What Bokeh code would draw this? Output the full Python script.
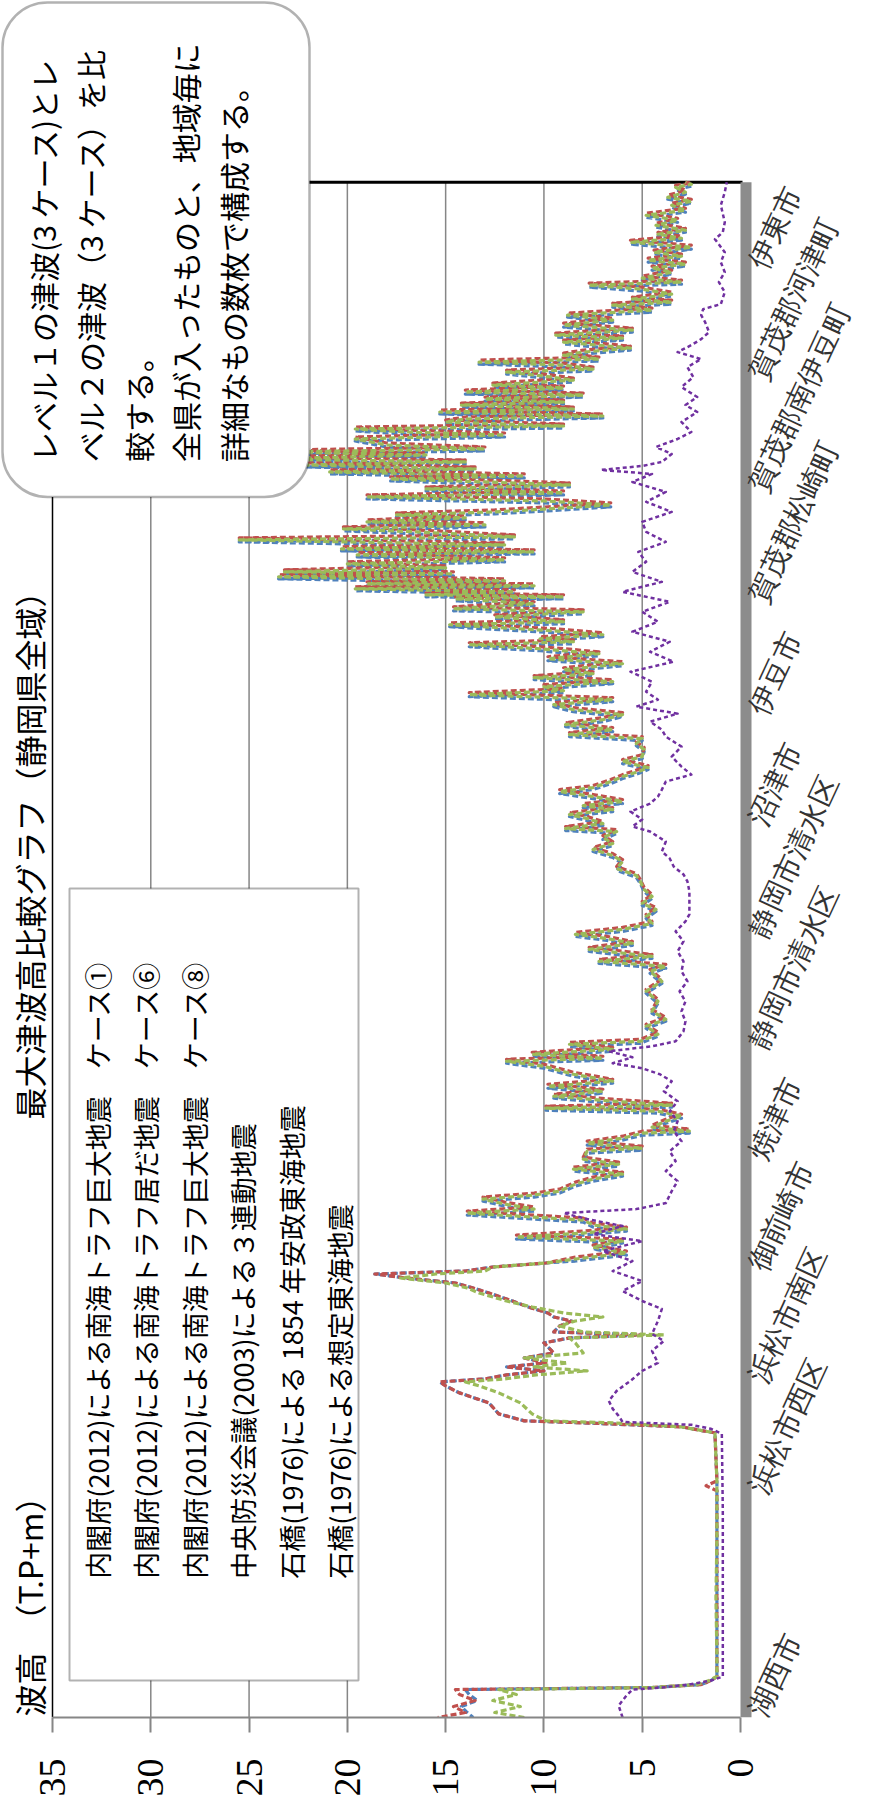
import math
from bokeh.plotting import figure
from bokeh.models import Range1d, FixedTicker, BoxAnnotation, Label, LabelSet, ColumnDataSource
from bokeh.embed import file_html
from bokeh.resources import INLINE

# ---------------- data (location index along the coast, tsunami height m) ----------------
height_ticks = [0, 5, 10, 15, 20, 25, 30, 35]
grid_heights = [5, 10, 15, 20, 25, 30]
plot_top = 1537          # last location index (伊東市 end)

loc_ticks = [3, 114, 226, 337, 449, 560, 672, 783, 895, 1006, 1118, 1229, 1341, 1452]
loc_labels = ["湖西市", "", "浜松市西区", "浜松市南区", "御前崎市", "焼津市", "静岡市清水区",
              "静岡市清水区", "沼津市", "伊豆市", "賀茂郡松崎町", "賀茂郡南伊豆町", "賀茂郡河津町", "伊東市"]

series_names = [
    "内閣府(2012)による南海トラフ巨大地震　ケース①",
    "内閣府(2012)による南海トラフ居だ地震　ケース⑥",
    "内閣府(2012)による南海トラフ巨大地震　ケース⑧",
    "中央防災会議(2003)による３連動地震",
    "石橋(1976)による 1854 年安政東海地震",
    "石橋(1976)による想定東海地震",
]

main_p = [
    0, 5, 11, 17, 23, 28, 30, 33, 37, 41,
    60, 120, 180, 227, 232, 237, 285, 287, 291, 295,
    297, 304, 315, 325, 332, 336, 339, 343, 347, 351,
    355, 360, 365, 375, 380, 383, 386, 392, 397, 401,
    405, 411, 417, 425, 430, 435, 440, 444, 447, 451,
    455, 459, 465, 471, 477, 481, 485, 489, 493, 498,
    505, 509, 514, 519, 523, 527, 534, 539, 544, 549,
    554, 559, 567, 570, 575, 580, 585, 587, 591, 597,
    602, 607, 610, 613, 617, 622, 627, 632, 637, 644,
    652, 657, 660, 664, 669, 674, 677, 684, 692, 699,
    707, 717, 727, 737, 747, 752, 757, 762, 769, 775,
    780, 784, 789, 795, 802, 809, 815, 822, 829, 837,
    843, 850, 857, 863, 869, 875, 881, 887, 890, 895,
    900, 904, 909, 913, 917, 922, 927, 931, 937, 942,
    947, 951, 957, 962, 969, 975, 980, 984, 989, 994,
    999, 1004, 1009, 1014, 1019, 1024, 1028, 1032, 1037, 1041,
    1045, 1049, 1055, 1060, 1065, 1070, 1074, 1077, 1080, 1084,
    1088, 1094, 1097, 1102, 1107, 1110, 1115, 1120, 1122, 1124,
    1127, 1130, 1133, 1135, 1138, 1142, 1145, 1147, 1151, 1155,
    1159, 1164, 1167, 1170, 1174, 1179, 1182, 1187, 1190, 1194,
    1197, 1201, 1204, 1207, 1211, 1214, 1218, 1222, 1226, 1230,
    1234, 1237, 1240, 1243, 1247, 1250, 1254, 1257, 1260, 1264,
    1267, 1270, 1274, 1280, 1284, 1287, 1290, 1293, 1297, 1300,
    1303, 1307, 1310, 1314, 1317, 1320, 1324, 1327, 1331, 1334,
    1339, 1343, 1347, 1350, 1354, 1357, 1360, 1364, 1367, 1371,
    1377, 1381, 1384, 1389, 1394, 1399, 1404, 1409, 1414, 1417,
    1420, 1425, 1430, 1434, 1437, 1441, 1447, 1451, 1455, 1459,
    1463, 1467, 1472, 1477, 1481, 1485, 1489, 1494, 1499, 1504,
    1509, 1514, 1518, 1522, 1527, 1532, 1535, 1537,
]

green_h = [
    11.0, 12.5, 11.2, 12.6, 11.4, 12.3, 4.5, 2.2, 1.6, 1.2,
    1.2, 1.25, 1.2, 1.2, 1.2, 1.2, 1.3, 1.9, 3.0, 6.5,
    9.9, 10.6, 11.2, 12.3, 13.3, 14.0, 12.0, 10.4, 7.8, 10.5,
    8.8, 11.0, 8.0, 8.4, 8.7, 3.9, 8.0, 9.2, 8.4, 7.0,
    9.0, 10.6, 11.9, 13.3, 13.9, 15.0, 17.3, 15.5, 13.0, 12.6,
    9.9, 8.4, 5.8, 7.5, 6.0, 11.4, 8.0, 5.8, 7.5, 8.0,
    13.9, 10.5, 12.0, 13.1, 10.5, 9.2, 8.4, 7.5, 6.0, 8.5,
    6.2, 8.0, 7.8, 5.0, 7.8, 6.0, 5.0, 2.6, 4.5, 3.8,
    3.0, 4.2, 9.9, 3.5, 6.5, 9.5, 7.0, 9.8, 6.5, 8.5,
    10.0, 11.9, 7.0, 10.6, 6.5, 8.7, 5.1, 4.2, 4.8, 3.8,
    4.5, 4.2, 4.8, 4.0, 4.6, 3.8, 7.2, 4.5, 7.7, 5.5,
    6.8, 8.4, 6.0, 4.5, 4.8, 4.3, 5.0, 4.5, 4.9, 5.1,
    5.3, 6.3, 6.0, 6.5, 7.5, 6.5, 7.0, 6.3, 8.9, 7.0,
    7.8, 8.7, 6.5, 8.0, 6.0, 7.5, 9.2, 7.5, 6.6, 6.0,
    5.2, 4.7, 6.0, 5.0, 4.9, 5.3, 5.0, 8.7, 6.5, 8.9,
    7.0, 6.0, 8.5, 9.5, 6.5, 13.8, 9.0, 10.0, 6.5, 10.5,
    7.5, 9.0, 6.0, 9.8, 7.2, 10.2, 13.8, 8.5, 10.2, 7.0,
    9.5, 14.8, 9.0, 12.5, 8.0, 14.6, 10.5, 14.5, 9.0, 16.0,
    11.5, 19.6, 10.5, 19.0, 12.0, 23.5, 14.6, 23.2, 15.0, 20.0,
    12.0, 19.5, 10.5, 20.3, 12.0, 25.5, 11.5, 16.5, 20.2, 13.0,
    19.0, 14.0, 17.5, 12.5, 9.0, 6.6, 10.0, 19.0, 9.0, 16.0,
    8.7, 13.0, 17.8, 11.0, 20.9, 13.5, 22.1, 14.0, 24.0, 16.0,
    23.5, 13.0, 18.0, 19.6, 12.0, 17.0, 19.6, 9.0, 15.0, 14.0,
    7.0, 15.3, 8.5, 14.2, 9.0, 13.0, 8.0, 14.0, 9.0, 12.6,
    8.5, 10.0, 11.9, 7.5, 9.0, 13.3, 7.2, 9.0, 8.0, 5.6,
    9.0, 6.0, 9.4, 5.5, 9.0, 6.5, 8.8, 4.5, 6.5, 3.5,
    5.5, 3.5, 5.0, 7.7, 3.0, 5.0, 3.5, 4.5, 2.8, 4.7,
    3.0, 4.4, 2.5, 5.6, 3.0, 4.2, 2.8, 4.3, 3.2, 4.8,
    2.8, 3.5, 2.5, 3.7, 2.8, 3.3, 2.5, 2.8,
]

red_p = [
    0, 5, 11, 17, 23, 28, 30, 33, 37, 41,
    60, 120, 180, 227, 232, 237, 285, 287, 291, 295,
    297, 304, 315, 325, 332, 336, 339, 343, 347, 351,
    355, 360, 365, 375, 380, 383, 386, 392, 397, 401,
    405, 411, 417, 425, 430, 435, 440, 444, 447, 451,
    455, 461, 467, 473, 479, 483, 487, 491, 495, 500,
    507, 511, 516, 521, 525, 529, 536, 541, 546, 551,
    556, 561, 569, 572, 577, 582, 587, 589, 593, 599,
    604, 609, 612, 615, 619, 624, 629, 634, 639, 646,
    654, 659, 662, 666, 671, 676, 679, 686, 694, 701,
    709, 719, 729, 739, 749, 754, 759, 764, 771, 777,
    782, 786, 791, 797, 804, 811, 817, 824, 831, 839,
    845, 852, 859, 865, 871, 877, 883, 889, 892, 897,
    902, 906, 911, 915, 919, 924, 929, 933, 939, 944,
    949, 953, 959, 964, 971, 977, 982, 986, 991, 996,
    1001, 1006, 1011, 1016, 1021, 1026, 1030, 1034, 1039, 1043,
    1047, 1051, 1057, 1062, 1067, 1072, 1076, 1079, 1082, 1086,
    1090, 1096, 1099, 1104, 1109, 1112, 1117, 1122, 1124, 1126,
    1129, 1132, 1135, 1137, 1140, 1144, 1147, 1149, 1153, 1157,
    1161, 1166, 1169, 1172, 1176, 1181, 1184, 1189, 1192, 1196,
    1199, 1203, 1206, 1209, 1213, 1216, 1220, 1224, 1228, 1232,
    1236, 1239, 1242, 1245, 1249, 1252, 1256, 1259, 1262, 1266,
    1269, 1272, 1276, 1282, 1286, 1289, 1292, 1295, 1299, 1302,
    1305, 1309, 1312, 1316, 1319, 1322, 1326, 1329, 1333, 1336,
    1341, 1345, 1349, 1352, 1356, 1359, 1362, 1366, 1369, 1373,
    1379, 1383, 1386, 1391, 1396, 1401, 1406, 1411, 1416, 1419,
    1422, 1427, 1432, 1436, 1439, 1443, 1449, 1453, 1457, 1461,
    1465, 1469, 1474, 1479, 1483, 1487, 1491, 1496, 1501, 1506,
    1511, 1516, 1520, 1524, 1529, 1534, 1536, 1537,
]

red_h = [
    15.4, 14.0, 14.6, 13.5, 14.3, 14.5, 4.5, 2.0, 1.5, 1.2,
    1.2, 1.2, 1.2, 1.2, 1.75, 1.2, 1.3, 1.9, 3.0, 8.0,
    11.0, 12.3, 12.8, 14.3, 15.0, 15.3, 13.0, 11.9, 10.0, 11.9,
    9.9, 11.0, 9.5, 10.0, 8.7, 5.0, 9.5, 9.2, 8.6, 9.5,
    9.8, 10.8, 11.6, 12.8, 13.6, 14.5, 17.0, 18.6, 14.0, 12.6,
    9.9, 8.4, 5.8, 7.5, 6.0, 11.4, 8.0, 5.8, 7.5, 8.0,
    13.9, 10.5, 12.0, 13.1, 10.5, 9.2, 8.4, 7.5, 6.0, 8.5,
    6.2, 8.0, 7.8, 5.0, 7.8, 6.0, 5.0, 2.6, 4.5, 3.8,
    3.0, 4.2, 9.9, 3.5, 6.5, 9.5, 7.0, 9.8, 6.5, 8.5,
    10.0, 11.9, 7.0, 10.6, 6.5, 8.7, 5.1, 4.2, 4.8, 3.8,
    4.5, 4.2, 4.8, 4.0, 4.6, 3.8, 7.2, 4.5, 7.7, 5.5,
    6.8, 8.4, 6.0, 4.5, 4.8, 4.3, 5.0, 4.5, 4.9, 5.1,
    5.3, 6.3, 6.0, 6.5, 7.5, 6.5, 7.0, 6.3, 8.9, 7.0,
    7.8, 8.7, 6.5, 8.0, 6.0, 7.5, 9.2, 7.5, 6.6, 6.0,
    5.2, 4.7, 6.0, 5.0, 4.9, 5.3, 5.0, 8.7, 6.5, 8.9,
    7.0, 6.0, 8.5, 9.5, 6.5, 13.8, 9.0, 10.0, 6.5, 10.5,
    7.5, 9.0, 6.0, 9.8, 7.2, 10.2, 13.8, 8.5, 10.2, 7.0,
    9.5, 14.8, 9.0, 12.5, 8.0, 14.6, 10.5, 14.5, 9.0, 16.0,
    11.5, 19.6, 10.5, 19.0, 12.0, 23.5, 14.6, 23.2, 15.0, 20.0,
    12.0, 19.5, 10.5, 20.3, 12.0, 25.5, 11.5, 16.5, 20.2, 13.0,
    19.0, 14.0, 17.5, 12.5, 9.0, 6.6, 10.0, 19.0, 9.0, 16.0,
    8.7, 13.0, 17.8, 11.0, 20.9, 13.5, 22.1, 14.0, 24.0, 16.0,
    23.5, 13.0, 18.0, 19.6, 12.0, 17.0, 19.6, 9.0, 15.0, 14.0,
    7.0, 15.3, 8.5, 14.2, 9.0, 13.0, 8.0, 14.0, 9.0, 12.6,
    8.5, 10.0, 11.9, 7.5, 9.0, 13.3, 7.2, 9.0, 8.0, 5.6,
    9.0, 6.0, 9.4, 5.5, 9.0, 6.5, 8.8, 4.5, 6.5, 3.5,
    5.5, 3.5, 5.0, 7.7, 3.0, 5.0, 3.5, 4.5, 2.8, 4.7,
    3.0, 4.4, 2.5, 5.6, 3.0, 4.2, 2.8, 4.3, 3.2, 4.8,
    2.8, 3.5, 2.5, 3.7, 2.8, 3.3, 2.5, 2.8,
]

blue_p = [
    0, 5, 11, 17, 23, 28, 30, 33, 37, 41,
    60, 120, 180, 227, 232, 237, 285, 287, 291, 295,
    297, 304, 315, 325, 332, 336, 339, 343, 347, 351,
    355, 360, 365, 375, 380, 383, 386, 392, 397, 401,
    405, 411, 417, 425, 430, 435, 440, 444, 447, 451,
    455, 457, 463, 469, 475, 479, 483, 487, 491, 496,
    503, 507, 512, 517, 521, 525, 532, 537, 542, 547,
    552, 557, 565, 568, 573, 578, 583, 585, 589, 595,
    600, 605, 608, 611, 615, 620, 625, 630, 635, 642,
    650, 655, 658, 662, 667, 672, 675, 682, 690, 697,
    705, 715, 725, 735, 745, 750, 755, 760, 767, 773,
    778, 782, 787, 793, 800, 807, 813, 820, 827, 835,
    841, 848, 855, 861, 867, 873, 879, 885, 888, 893,
    898, 902, 907, 911, 915, 920, 925, 929, 935, 940,
    945, 949, 955, 960, 967, 973, 978, 982, 987, 992,
    997, 1002, 1007, 1012, 1017, 1022, 1026, 1030, 1035, 1039,
    1043, 1047, 1053, 1058, 1063, 1068, 1072, 1075, 1078, 1082,
    1086, 1092, 1095, 1100, 1105, 1108, 1113, 1118, 1120, 1122,
    1125, 1128, 1131, 1133, 1136, 1140, 1143, 1145, 1149, 1153,
    1157, 1162, 1165, 1168, 1172, 1177, 1180, 1185, 1188, 1192,
    1195, 1199, 1202, 1205, 1209, 1212, 1216, 1220, 1224, 1228,
    1232, 1235, 1238, 1241, 1245, 1248, 1252, 1255, 1258, 1262,
    1265, 1268, 1272, 1278, 1282, 1285, 1288, 1291, 1295, 1298,
    1301, 1305, 1308, 1312, 1315, 1318, 1322, 1325, 1329, 1332,
    1337, 1341, 1345, 1348, 1352, 1355, 1358, 1362, 1365, 1369,
    1375, 1379, 1382, 1387, 1392, 1397, 1402, 1407, 1412, 1415,
    1418, 1423, 1428, 1432, 1435, 1439, 1445, 1449, 1453, 1457,
    1461, 1465, 1470, 1475, 1479, 1483, 1487, 1492, 1497, 1502,
    1507, 1512, 1516, 1520, 1525, 1530, 1533, 1537,
]

blue_h = [
    13.6, 13.9, 14.2, 13.4, 13.8, 14.0, 4.5, 2.0, 1.5, 1.2,
    1.2, 1.2, 1.2, 1.2, 1.2, 1.2, 1.3, 1.9, 3.0, 8.0,
    11.0, 12.3, 12.8, 14.3, 15.0, 15.3, 13.0, 11.9, 10.0, 11.9,
    9.9, 11.0, 9.5, 10.0, 8.7, 5.0, 9.5, 9.2, 8.6, 9.5,
    9.8, 10.8, 11.6, 12.8, 13.6, 14.5, 17.0, 18.6, 14.0, 12.6,
    9.9, 8.4, 5.8, 7.5, 6.0, 11.4, 8.0, 5.8, 7.5, 8.0,
    13.9, 10.5, 12.0, 13.1, 10.5, 9.2, 8.4, 7.5, 6.0, 8.5,
    6.2, 8.0, 7.8, 5.0, 7.8, 6.0, 5.0, 2.6, 4.5, 3.8,
    3.0, 4.2, 9.9, 3.5, 6.5, 9.5, 7.0, 9.8, 6.5, 8.5,
    10.0, 11.9, 7.0, 10.6, 6.5, 8.7, 5.1, 4.2, 4.8, 3.8,
    4.5, 4.2, 4.8, 4.0, 4.6, 3.8, 7.2, 4.5, 7.7, 5.5,
    6.8, 8.4, 6.0, 4.5, 4.8, 4.3, 5.0, 4.5, 4.9, 5.1,
    5.3, 6.3, 6.0, 6.5, 7.5, 6.5, 7.0, 6.3, 8.9, 7.0,
    7.8, 8.7, 6.5, 8.0, 6.0, 7.5, 9.2, 7.5, 6.6, 6.0,
    5.2, 4.7, 6.0, 5.0, 4.9, 5.3, 5.0, 8.7, 6.5, 8.9,
    7.0, 6.0, 8.5, 9.5, 6.5, 13.8, 9.0, 10.0, 6.5, 10.5,
    7.5, 9.0, 6.0, 9.8, 7.2, 10.2, 13.8, 8.5, 10.2, 7.0,
    9.5, 14.8, 9.0, 12.5, 8.0, 14.6, 10.5, 14.5, 9.0, 16.0,
    11.5, 19.6, 10.5, 19.0, 12.0, 23.5, 14.6, 23.2, 15.0, 20.0,
    12.0, 19.5, 10.5, 20.3, 12.0, 25.5, 11.5, 16.5, 20.2, 13.0,
    19.0, 14.0, 17.5, 12.5, 9.0, 6.6, 10.0, 19.0, 9.0, 16.0,
    8.7, 13.0, 17.8, 11.0, 20.9, 13.5, 22.1, 14.0, 24.0, 16.0,
    23.5, 13.0, 18.0, 19.6, 12.0, 17.0, 19.6, 9.0, 15.0, 14.0,
    7.0, 15.3, 8.5, 14.2, 9.0, 13.0, 8.0, 14.0, 9.0, 12.6,
    8.5, 10.0, 11.9, 7.5, 9.0, 13.3, 7.2, 9.0, 8.0, 5.6,
    9.0, 6.0, 9.4, 5.5, 9.0, 6.5, 8.8, 4.5, 6.5, 3.5,
    5.5, 3.5, 5.0, 7.7, 3.0, 5.0, 3.5, 4.5, 2.8, 4.7,
    3.0, 4.4, 2.5, 5.6, 3.0, 4.2, 2.8, 4.3, 3.2, 4.8,
    2.8, 3.5, 2.5, 3.7, 2.8, 3.3, 2.5, 2.8,
]

purple_p = [
    0, 12, 22, 28, 30, 33, 37, 41, 127, 207,
    284, 289, 293, 296, 302, 309, 317, 327, 337, 347,
    355, 367, 377, 384, 397, 409, 417, 427, 437, 447,
    457, 467, 477, 484, 492, 499, 505, 509, 515, 527,
    537, 547, 557, 567, 577, 587, 597, 607, 617, 627,
    637, 644, 650, 655, 661, 667, 672, 677, 687, 697,
    707, 717, 727, 737, 747, 757, 767, 777, 787, 797,
    804, 817, 827, 837, 844, 852, 860, 867, 877, 887,
    892, 899, 907, 915, 922, 929, 937, 944, 952, 962,
    972, 982, 989, 997, 1005, 1012, 1019, 1027, 1037, 1047,
    1057, 1067, 1077, 1087, 1097, 1107, 1117, 1127, 1137, 1147,
    1157, 1167, 1177, 1187, 1197, 1207, 1217, 1227, 1237, 1245,
    1249, 1253, 1257, 1265, 1272, 1280, 1287, 1297, 1307, 1314,
    1322, 1332, 1342, 1352, 1360, 1367, 1374, 1380, 1387, 1397,
    1404, 1410, 1415, 1427, 1437, 1447, 1457, 1467, 1480, 1487,
    1497, 1514, 1527, 1537,
]

purple_h = [
    6.0, 6.2, 5.8, 5.5, 4.0, 2.6, 1.5, 0.9, 0.9, 0.9,
    0.95, 1.5, 2.5, 6.0, 6.2, 6.5, 6.7, 6.3, 5.6, 5.0,
    4.2, 4.5, 3.9, 4.5, 4.2, 4.0, 5.0, 6.0, 5.0, 6.5,
    5.5, 7.0, 5.0, 7.5, 6.0, 7.8, 9.0, 5.3, 3.8, 3.5,
    3.2, 3.8, 3.3, 3.6, 3.0, 3.4, 3.2, 3.6, 3.2, 3.9,
    3.5, 4.1, 5.0, 6.5, 5.5, 6.7, 4.5, 3.3, 2.9, 2.8,
    3.0, 2.8, 3.1, 2.7, 3.0, 2.9, 3.2, 2.9, 3.3, 2.8,
    2.6, 2.6, 2.6, 2.7, 2.9, 3.4, 3.6, 4.0, 3.8, 4.6,
    5.5, 5.0, 5.6, 4.6, 4.2, 4.0, 3.8, 2.5, 3.0, 3.5,
    3.0, 3.8, 4.0, 4.6, 3.2, 5.3, 4.2, 4.8, 4.5, 5.6,
    3.4, 4.6, 3.6, 5.5, 4.2, 5.0, 3.6, 6.0, 4.0, 5.5,
    4.8, 5.2, 3.8, 4.8, 5.0, 3.5, 4.8, 3.8, 5.5, 4.5,
    7.1, 5.0, 4.0, 3.5, 4.3, 3.2, 2.5, 3.0, 2.2, 2.8,
    2.2, 3.0, 2.4, 2.7, 2.0, 3.2, 2.5, 2.0, 1.6, 1.8,
    2.0, 1.9, 1.0, 0.8, 1.1, 0.8, 1.0, 0.8, 1.3, 0.9,
    0.8, 1.0, 0.8, 0.7,
]

note_lines = [
    "レベル１の津波(3 ケース)とレ",
    "ベル２の津波（3 ケース）を比",
    "較する。",
    "全県が入ったものと、地域毎に",
    "詳細なもの数枚で構成する。",
]
chart_title = "最大津波高比較グラフ（静岡県全域）"
value_title = "津波高　（T.P+m）"

# ---------------- layout helpers (page pixels -> data coordinates, for annotations only) ----------------
PX_PER_M = 19.657
def vx(px):
    return (748 - px) / PX_PER_M
def py(y):
    return 1727 - y

JP = "Noto Sans CJK JP"

# frame covers the whole canvas except the bottom band used by the value axis
p = figure(width=859, height=1799, output_backend="svg", toolbar_location=None,
           x_range=Range1d(vx(8), vx(867)), y_range=Range1d(0, py(8)),
           y_axis_location=None,
           min_border_left=0, min_border_right=0, min_border_top=0, min_border_bottom=80)
p.background_fill_color = "white"
p.border_fill_color = "white"
p.outline_line_color = None
p.xgrid.visible = False
p.ygrid.visible = False

xa = p.xaxis[0]
xa.ticker = FixedTicker(ticks=height_ticks)
xa.bounds = (0, 35)
xa.major_label_orientation = math.pi / 2
xa.major_label_text_font = "Liberation Serif"
xa.major_label_text_font_size = "38px"
xa.major_label_text_color = "black"
xa.axis_line_color = "#868686"
xa.axis_line_width = 2
xa.major_tick_line_color = "#868686"
xa.major_tick_line_width = 2
xa.major_tick_out = 15
xa.major_tick_in = 0
xa.minor_tick_line_color = None
xa.major_label_standoff = 26

# plot-area gridlines and borders
p.segment(x0=grid_heights, y0=0, x1=grid_heights, y1=plot_top, line_color="#868686", line_width=1.5)
p.segment(x0=[35], y0=[0], x1=[35], y1=[plot_top], line_color="black", line_width=1.5)
p.segment(x0=[35], y0=[plot_top], x1=[vx(750)], y1=[plot_top], line_color="black", line_width=3)
# category axis line (thick grey) at height 0
p.segment(x0=[vx(753.5)], y0=[0], x1=[vx(753.5)], y1=[plot_top], line_color="#8c8c8c", line_width=11)

# data series
p.line(blue_h, blue_p, line_color="#4F81BD", line_width=3.2, line_dash="6 3", line_dash_offset=2, line_join="round")
p.line(red_h, red_p, line_color="#C0504D", line_width=3.2, line_dash="6 3", line_dash_offset=5, line_join="round")
p.line(green_h, main_p, line_color="#9BBB59", line_width=3.2, line_dash="6 3", line_dash_offset=0, line_join="round")
p.line(purple_h, purple_p, line_color="#7030A0", line_width=2.5, line_dash="4 3", line_join="round")

# category labels along the coast axis
named = [(t, n) for t, n in zip(loc_ticks, loc_labels) if n]
cat_src = ColumnDataSource(data=dict(pos=[t for t, _ in named], name=[n for _, n in named]))
p.add_layout(LabelSet(x=vx(764), y="pos", text="name", source=cat_src, angle=1.134,
                      text_align="left", text_baseline="middle", text_font=JP,
                      text_font_size="29px", text_color="#333333"))

# legend box (text only, rotated like the chart)
p.add_layout(BoxAnnotation(left=vx(77), right=vx(366), top=py(897), bottom=py(1690),
                           fill_color="white", fill_alpha=1.0, line_color="black", line_width=2))
for i, name in enumerate(series_names):
    p.add_layout(Label(x=vx(105 + 48.4 * i), y=py(1588), text=name, angle=math.pi / 2,
                       text_align="left", text_baseline="middle", text_font=JP,
                       text_font_size="27px", text_color="black"))

# callout note
p.add_layout(BoxAnnotation(left=vx(10), right=vx(317), top=py(10), bottom=py(505), border_radius=45,
                           fill_color="white", fill_alpha=1.0, line_color="black", line_width=2.5))
for i, line in enumerate(note_lines):
    p.add_layout(Label(x=vx(50 + 47.5 * i), y=py(470), text=line, angle=math.pi / 2,
                       text_align="left", text_baseline="middle", text_font=JP,
                       text_font_size="30px", text_color="black"))

# chart title and value-axis title along the left edge (kept fully inside the page)
p.add_layout(Label(x=vx(36), y=py(856), text=chart_title, angle=math.pi / 2,
                   text_align="center", text_baseline="middle", text_font=JP,
                   text_font_size="32px", text_color="black"))
p.add_layout(Label(x=vx(36), y=py(1758), text=value_title, angle=math.pi / 2,
                   text_align="left", text_baseline="middle", text_font=JP,
                   text_font_size="32px", text_color="black"))

with open("out.html", "w", encoding="utf-8") as f:
    f.write(file_html(p, INLINE, title="最大津波高比較グラフ"))
